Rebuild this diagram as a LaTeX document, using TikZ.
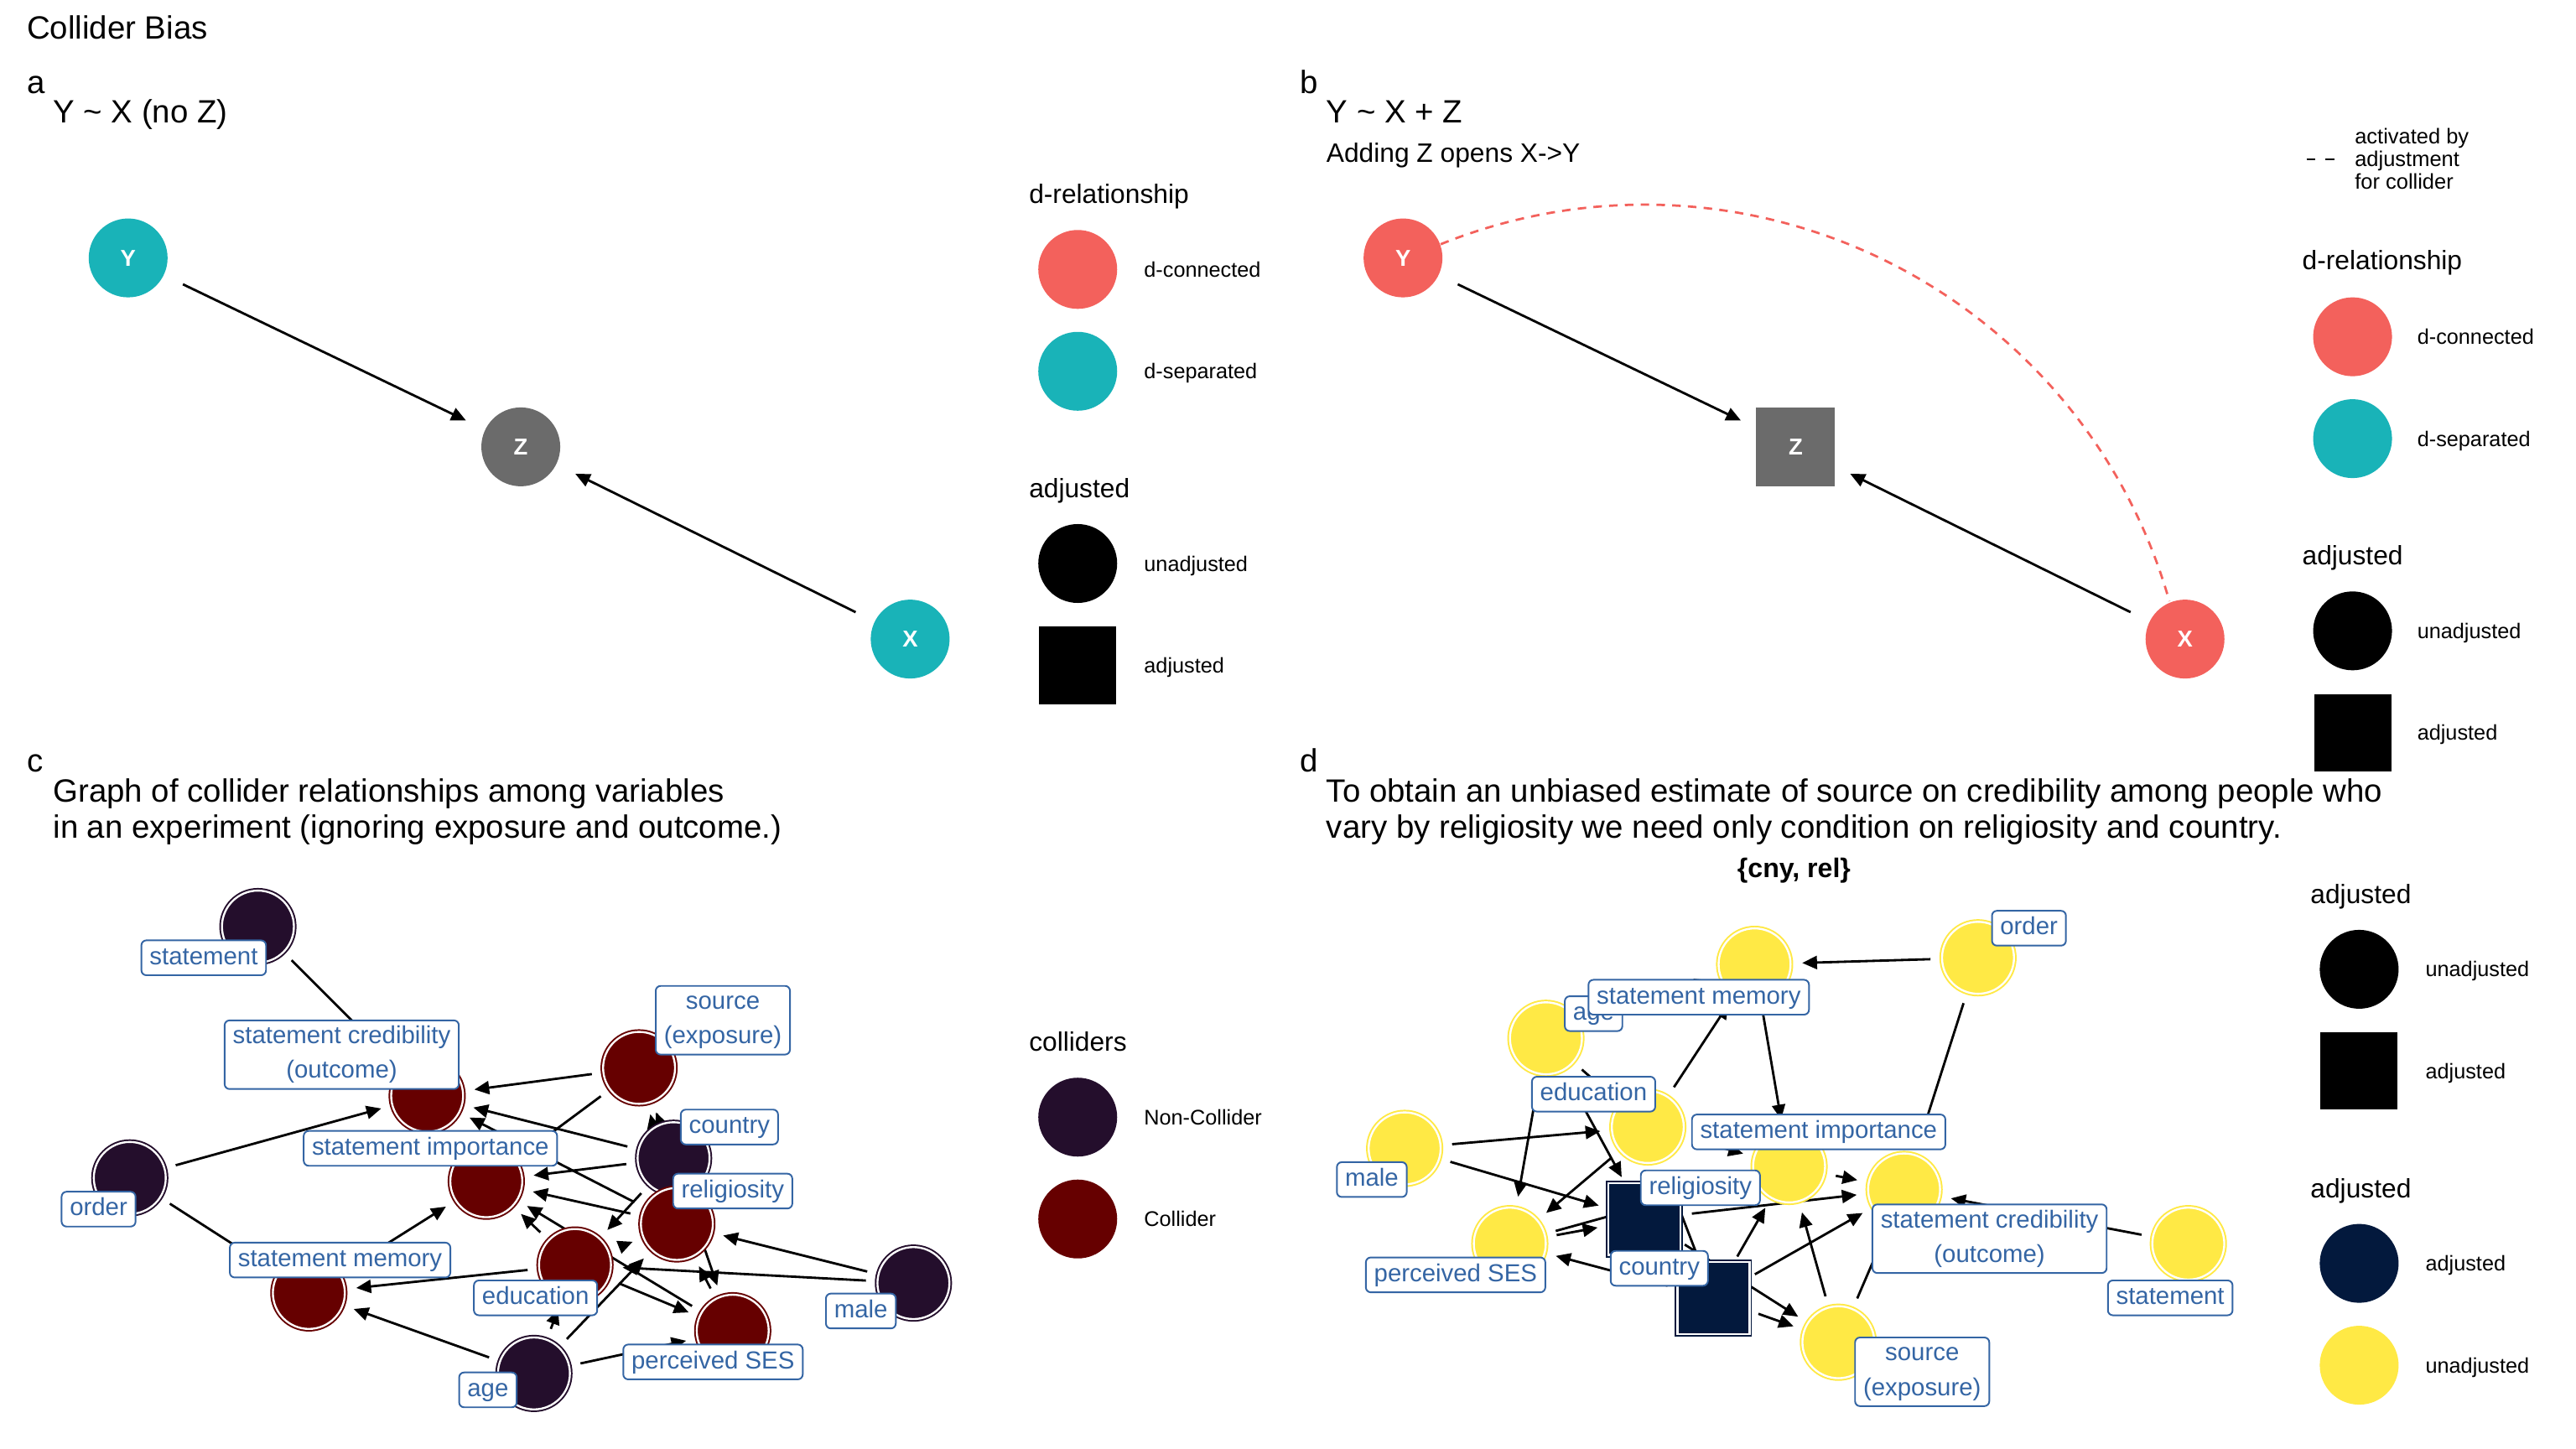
\documentclass[tikz,border=0pt]{standalone}
\usepackage{fontspec}
\setmainfont{Liberation Sans}
\usetikzlibrary{arrows.meta}
\definecolor{dcon}{HTML}{F3615C}
\definecolor{dsep}{HTML}{19B3B8}
\definecolor{zgrey}{HTML}{6B6B6B}
\definecolor{ncol}{HTML}{240E2C}
\definecolor{ccol}{HTML}{660000}
\definecolor{navy}{HTML}{03193D}
\definecolor{yel}{HTML}{FFE945}
\definecolor{labcol}{HTML}{3465A4}
\begin{document}
\begin{tikzpicture}[x=0.5pt,y=-0.5pt,
  every node/.style={inner sep=0pt},
  title/.style={anchor=base west, font=\fontsize{9.8}{11.8}\selectfont},
  sub/.style={anchor=base west, font=\fontsize{8.1}{9.7}\selectfont},
  legtitle/.style={anchor=base west, font=\fontsize{8.1}{9.7}\selectfont},
  legtext/.style={anchor=base west, font=\fontsize{6.45}{7}\selectfont},
  acttext/.style={anchor=base west, font=\fontsize{6.5}{7}\selectfont},
  abnode/.style={circle, minimum size=24pt, text=white, font=\bfseries\fontsize{7}{8}\selectfont},
  absq/.style={rectangle, minimum size=24pt, text=white, font=\bfseries\fontsize{7}{8}\selectfont},
  edge/.style={line width=0.72pt, -{Triangle[length=4.5pt,width=4pt]}},
  abedge/.style={edge, shorten <=18.5pt, shorten >=18.5pt},
  cdedge/.style={edge, shorten <=14.5pt, shorten >=14.5pt},
  gnode/.style={circle, minimum size=21.9pt, line width=0.5pt, double=white, double distance=0.6pt},
  gsq/.style={rectangle, minimum size=21.9pt, line width=0.5pt, double=white, double distance=0.6pt},
  lab/.style={draw=labcol, fill=white, text=labcol, rounded corners=1.5pt, line width=0.5pt,
    font=\fontsize{7.5}{10.5}\selectfont, inner xsep=2.5pt, inner ysep=1.7pt, text height=5.6pt, text depth=1.6pt},
  labtwo/.style={draw=labcol, fill=white, text=labcol, rounded corners=1.5pt, line width=0.5pt,
    font=\fontsize{7.5}{10.5}\selectfont, inner xsep=2.5pt, inner ysep=1.7pt, align=center},
  legc/.style={circle, minimum size=24pt},
  legs/.style={rectangle, minimum size=23.5pt},
]
\useasboundingbox (0,0) rectangle (1568,882);
\fill[white] (0,0) rectangle (1568,882);

% ---------------- titles
\node[title] (ttl) at (16,23.5) {Collider Bias};
\node[title] (la) at (16,57) {a};
\node[title] (ta) at (32,75) {Y \textasciitilde{} X (no Z)};
\node[title] (lb) at (791,57) {b};
\node[title] (tb) at (807,75) {Y \textasciitilde{} X + Z};
\node[sub] (sb) at (807,99) {Adding Z opens X->Y};
\node[title] (lc) at (16,470) {c};
\node[title] (tc1) at (32,488) {Graph of collider relationships among variables};
\node[title] (tc2) at (32,510) {in an experiment (ignoring exposure and outcome.)};
\node[title] (ld) at (791,470) {d};
\node[title] (td1) at (807,488) {To obtain an unbiased estimate of source on credibility among people who};
\node[title] (td2) at (807,510) {vary by religiosity we need only condition on religiosity and country.};
\node[anchor=base, font=\bfseries\fontsize{8.2}{9}\selectfont] (cnyrel) at (1092,534) {\{cny, rel\}};

% ---------------- panel a
\node[abnode, fill=dsep] (aY) at (78,157) {Y};
\node[abnode, fill=zgrey] (aZ) at (317,272) {Z};
\node[abnode, fill=dsep] (aX) at (554,389) {X};
\draw[abedge] (aY.center) -- (aZ.center);
\draw[abedge] (aX.center) -- (aZ.center);

\node[legtitle] (aLt1) at (626,124) {d-relationship};
\node[legc, fill=dcon] (aLc1) at (656,164) {};
\node[legtext] (aLx1) at (696,168.6) {d-connected};
\node[legc, fill=dsep] (aLc2) at (656,226) {};
\node[legtext] (aLx2) at (696,230.6) {d-separated};
\node[legtitle] (aLt2) at (626,303) {adjusted};
\node[legc, fill=black] (aLc3) at (656,343) {};
\node[legtext] (aLx3) at (696,347.6) {unadjusted};
\node[legs, fill=black] (aLs4) at (656,405) {};
\node[legtext] (aLx4) at (696,409.6) {adjusted};

% ---------------- panel b
\node[abnode, fill=dcon] (bY) at (854,157) {Y};
\node[absq, fill=zgrey] (bZ) at (1093,272) {Z};
\node[abnode, fill=dcon] (bX) at (1330,389) {X};
\draw[abedge] (bY.center) -- (bZ.center);
\draw[abedge] (bX.center) -- (bZ.center);
\draw[dcon, line width=0.7pt, dash pattern=on 2.6pt off 2.2pt] (bY.20) arc[start angle=-111.96, end angle=-15.84, radius=332];

\coordinate (bKa) at (1404,97);
\coordinate (bKb) at (1422,97);
\draw[line width=0.7pt, dash pattern=on 2.6pt off 3.2pt] (bKa) -- (bKb);
\node[acttext] (bA1) at (1433,87.3) {activated by};
\node[acttext] (bA2) at (1433,101.3) {adjustment};
\node[acttext] (bA3) at (1433,115.3) {for collider};
\node[legtitle] (bLt1) at (1401,164) {d-relationship};
\node[legc, fill=dcon] (bLc1) at (1432,205) {};
\node[legtext] (bLx1) at (1471,209.6) {d-connected};
\node[legc, fill=dsep] (bLc2) at (1432,267) {};
\node[legtext] (bLx2) at (1471,271.6) {d-separated};
\node[legtitle] (bLt2) at (1401,344) {adjusted};
\node[legc, fill=black] (bLc3) at (1432,384) {};
\node[legtext] (bLx3) at (1471,388.6) {unadjusted};
\node[legs, fill=black] (bLs4) at (1432,446) {};
\node[legtext] (bLx4) at (1471,450.6) {adjusted};

% ---------------- panel c coordinates
\coordinate (c-stmt) at (157,564);
\coordinate (c-cred) at (260,667);
\coordinate (c-src) at (389,650);
\coordinate (c-ord) at (79,717);
\coordinate (c-imp) at (296,719);
\coordinate (c-cty) at (410,705);
\coordinate (c-rel) at (412,745);
\coordinate (c-mem) at (188,787);
\coordinate (c-edu) at (350,770);
\coordinate (c-male) at (556,781);
\coordinate (c-ses) at (446,810);
\coordinate (c-age) at (325,836);
% ---------------- panel d coordinates
\coordinate (d-ord) at (1204,583);
\coordinate (d-mem) at (1068,587);
\coordinate (d-age) at (941,632);
\coordinate (d-edu) at (1003,686);
\coordinate (d-male) at (855,699);
\coordinate (d-imp) at (1089,710);
\coordinate (d-cred) at (1159,724);
\coordinate (d-rel) at (1001,742);
\coordinate (d-ses) at (919,757);
\coordinate (d-cty) at (1043,790);
\coordinate (d-src) at (1119,817);
\coordinate (d-stmt) at (1332,757);

% ---------------- edges (same DAG in c and d)
\foreach \s/\t in {stmt/cred, src/cred, ord/cred, ord/mem, src/imp, cty/cred, cty/imp,
  rel/cred, rel/imp, cty/edu, male/rel, male/edu, rel/src, cty/src, ses/rel, cty/ses,
  age/mem, edu/mem, mem/imp, age/edu, age/rel, age/ses, edu/ses, edu/imp, imp/cred, ses/imp}{
  \draw[cdedge] (c-\s) -- (c-\t);
  \draw[cdedge] (d-\s) -- (d-\t);
}
\draw[cdedge] (c-edu) -- (c-rel);

% ---------------- panel c nodes
\foreach \n in {stmt, ord, cty, male, age}{
  \node[gnode, draw=ncol, fill=ncol] (cn-\n) at (c-\n) {};
}
\foreach \n in {cred, src, imp, rel, mem, edu, ses}{
  \node[gnode, draw=ccol, fill=ccol] (cn-\n) at (c-\n) {};
}
% ---------------- panel d nodes
\foreach \n in {ord, mem, age, edu, male, imp, cred, ses, src, stmt}{
  \node[gnode, draw=yel, fill=yel] (dn-\n) at (d-\n) {};
}
\node[gsq, draw=navy, fill=navy] (dn-rel) at (d-rel) {};
\node[gsq, draw=navy, fill=navy] (dn-cty) at (d-cty) {};

% ---------------- panel c labels
\node[lab] (cl-stmt) at (124,583) {statement};
\node[labtwo] (cl-cred) at (208,642) {\vphantom{(}statement credibility\\(outcome)};
\node[labtwo] (cl-src) at (440,621) {\vphantom{(}source\\(exposure)};
\node[lab] (cl-ord) at (60,736) {order};
\node[lab] (cl-imp) at (262,699) {statement importance};
\node[lab] (cl-cty) at (444,686) {country};
\node[lab] (cl-rel) at (446,725) {religiosity};
\node[lab] (cl-mem) at (207,767) {statement memory};
\node[lab] (cl-edu) at (326,790) {education};
\node[lab] (cl-male) at (524,798) {male};
\node[lab] (cl-ses) at (434,829) {perceived SES};
\node[lab] (cl-age) at (297,846) {age};

% ---------------- panel d labels
\node[lab] (dl-ord) at (1235,565) {order};
\node[lab] (dl-age) at (970,617) {age};
\node[lab] (dl-mem) at (1034,607) {statement memory};
\node[lab] (dl-edu) at (970,666) {education};
\node[lab] (dl-male) at (835,718) {male};
\node[lab] (dl-imp) at (1107,689) {statement importance};
\node[labtwo] (dl-cred) at (1211,754) {\vphantom{(}statement credibility\\(outcome)};
\node[lab] (dl-rel) at (1035,723) {religiosity};
\node[lab] (dl-ses) at (886,776) {perceived SES};
\node[lab] (dl-cty) at (1010,772) {country};
\node[labtwo] (dl-src) at (1170,835) {\vphantom{(}source\\(exposure)};
\node[lab] (dl-stmt) at (1321,790) {statement};

% ---------------- legends c and d
\node[legtitle] (cLt) at (626,640) {colliders};
\node[legc, fill=ncol] (cLc1) at (656,680) {};
\node[legtext] (cLx1) at (696,684.6) {Non-Collider};
\node[legc, fill=ccol] (cLc2) at (656,742) {};
\node[legtext] (cLx2) at (696,746.6) {Collider};

\node[legtitle] (dLt1) at (1406,550) {adjusted};
\node[legc, fill=black] (dLc1) at (1436,590) {};
\node[legtext] (dLx1) at (1476,594.6) {unadjusted};
\node[legs, fill=black] (dLs2) at (1436,652) {};
\node[legtext] (dLx2) at (1476,656.6) {adjusted};
\node[legtitle] (dLt2) at (1406,729) {adjusted};
\node[legc, fill=navy] (dLc3) at (1436,769) {};
\node[legtext] (dLx3) at (1476,773.6) {adjusted};
\node[legc, fill=yel] (dLc4) at (1436,831) {};
\node[legtext] (dLx4) at (1476,835.6) {unadjusted};
\end{tikzpicture}
\end{document}
